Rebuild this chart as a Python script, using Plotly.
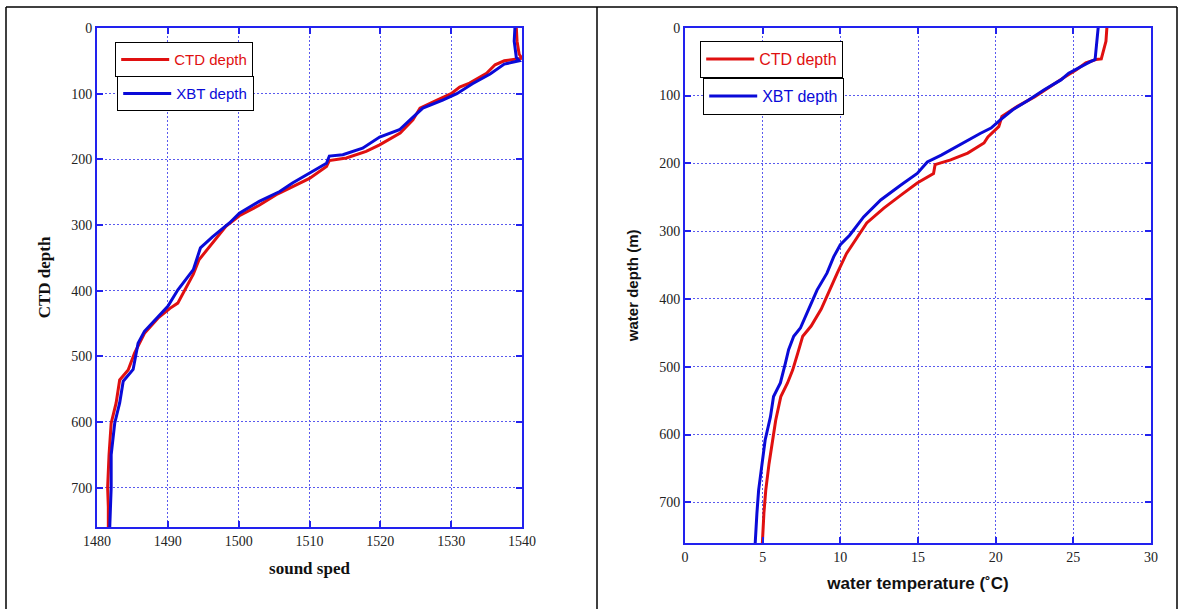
import plotly.graph_objects as go

# ---- Sound speed profile (left panel) ----
ss_ctd_depth = [0, 20, 40, 46, 50, 56, 69, 84, 90, 100, 110, 122, 140, 160, 178, 188, 198, 202, 211,
                229, 244, 254, 270, 286, 302, 328, 353, 375, 396, 419, 427, 442, 465, 495, 521, 536,
                571, 602, 650, 700, 730, 760]
ss_ctd_speed = [1539.2, 1539.3, 1539.6, 1540.0, 1537.5, 1536.2, 1535.0, 1532.6, 1531.2, 1530.0, 1528.0,
                1525.6, 1524.6, 1522.8, 1519.9, 1518.0, 1515.2, 1512.8, 1512.4, 1510.0, 1507.2, 1505.3,
                1502.9, 1500.1, 1498.2, 1496.3, 1494.4, 1493.6, 1492.6, 1491.4, 1490.3, 1488.6, 1486.7,
                1485.3, 1484.4, 1483.2, 1482.7, 1482.0, 1481.7, 1481.5, 1481.6, 1481.6]

ss_xbt_depth = [0, 20, 45, 50, 55, 70, 85, 100, 110, 122, 140, 155, 166, 183, 193, 195, 206, 221, 236,
                249, 264, 282, 297, 318, 335, 368, 399, 424, 445, 462, 480, 520, 538, 571, 602, 650, 700,
                760]
ss_xbt_speed = [1539.0, 1538.9, 1539.2, 1539.6, 1537.5, 1535.5, 1533.0, 1530.8, 1528.8, 1526.0, 1524.2,
                1522.7, 1519.9, 1517.5, 1514.7, 1512.8, 1512.4, 1510.0, 1507.6, 1505.8, 1502.9, 1500.1,
                1498.7, 1496.3, 1494.6, 1493.6, 1491.4, 1490.0, 1488.1, 1486.7, 1485.8, 1485.1, 1483.7,
                1483.2, 1482.5, 1482.0, 1482.0, 1481.8]

# ---- Temperature profile (right panel) ----
t_ctd_depth = [0, 20, 46, 47, 52, 62, 72, 87, 102, 116, 131, 146, 161, 170, 185, 195, 202, 215, 229,
               247, 266, 288, 308, 333, 362, 397, 415, 440, 455, 480, 505, 524, 544, 579, 608, 643,
               682, 716, 760]
t_ctd_temp = [27.16, 27.1, 26.8, 26.45, 25.8, 25.2, 24.5, 23.5, 22.5, 21.4, 20.4, 20.2, 19.5, 19.25,
              18.2, 17.1, 16.1, 16.0, 14.95, 13.9, 12.8, 11.7, 11.1, 10.4, 9.8, 9.14, 8.77, 8.12, 7.58,
              7.26, 6.93, 6.6, 6.17, 5.84, 5.63, 5.41, 5.2, 5.08, 4.98]

t_xbt_depth = [0, 20, 47, 50, 57, 67, 77, 92, 107, 121, 136, 148, 156, 173, 188, 198, 215, 232, 254,
               279, 306, 320, 338, 362, 387, 421, 443, 455, 475, 495, 524, 544, 574, 608, 647, 682,
               716, 760]
t_xbt_temp = [26.6, 26.5, 26.4, 26.1, 25.5, 24.7, 24.2, 23.1, 22.1, 21.1, 20.3, 19.7, 19.0, 17.7, 16.5,
              15.6, 14.95, 13.9, 12.6, 11.5, 10.6, 10.0, 9.57, 9.14, 8.5, 7.85, 7.43, 7.0, 6.67, 6.46,
              6.14, 5.7, 5.5, 5.16, 4.95, 4.74, 4.63, 4.52]

depth_ticks = [0, 100, 200, 300, 400, 500, 600, 700]
speed_ticks = [1480, 1490, 1500, 1510, 1520, 1530, 1540]
temp_ticks = [0, 5, 10, 15, 20, 25, 30]

RED = "#e01010"
BLUE = "#0a0ad8"
AXIS = "#2222ee"
GRID = "#5a5aee"
W, H = 1182, 609

fig = go.Figure()
fig.add_trace(go.Scatter(x=ss_ctd_speed, y=ss_ctd_depth, mode="lines", name="CTD depth",
                         line=dict(color=RED, width=3), xaxis="x", yaxis="y", legend="legend"))
fig.add_trace(go.Scatter(x=ss_xbt_speed, y=ss_xbt_depth, mode="lines", name="XBT depth",
                         line=dict(color=BLUE, width=3), xaxis="x", yaxis="y", legend="legend2"))
fig.add_trace(go.Scatter(x=t_ctd_temp, y=t_ctd_depth, mode="lines", name="CTD depth",
                         line=dict(color=RED, width=3), xaxis="x2", yaxis="y2", legend="legend3"))
fig.add_trace(go.Scatter(x=t_xbt_temp, y=t_xbt_depth, mode="lines", name="XBT depth",
                         line=dict(color=BLUE, width=3), xaxis="x2", yaxis="y2", legend="legend4"))

tickfont = dict(family="Liberation Serif", size=14, color="#222")
common = dict(showline=True, linecolor=AXIS, linewidth=2, mirror="ticks",
              ticks="inside", ticklen=6, tickwidth=1.5, tickcolor=AXIS,
              showgrid=True, gridcolor=GRID, gridwidth=1, griddash="2px,2px",
              zeroline=False, tickfont=tickfont, automargin=False)

fig.update_layout(
    width=W, height=H,
    margin=dict(l=0, r=0, t=0, b=0, pad=0),
    paper_bgcolor="white", plot_bgcolor="white",
    xaxis=dict(domain=[97 / W, 522 / W], anchor="y", range=[1480, 1540], tickvals=speed_ticks,
               title=dict(text="sound sped", font=dict(family="Liberation Serif", size=17, color="#111",
                                                       weight="bold"), standoff=14),
               **common),
    yaxis=dict(domain=[1 - 527 / H, 1 - 28 / H], anchor="x", range=[760, 0], tickvals=depth_ticks,
               title=dict(text="CTD depth", font=dict(family="Liberation Serif", size=17, color="#111",
                                                      weight="bold"), standoff=16),
               **common),
    xaxis2=dict(domain=[685 / W, 1151 / W], anchor="y2", range=[0, 30], tickvals=temp_ticks,
                title=dict(text="water temperature (˚C)", font=dict(family="Liberation Sans", size=17,
                                                                    color="#111", weight="bold"), standoff=13),
                **common),
    yaxis2=dict(domain=[1 - 543 / H, 1 - 27.7 / H], anchor="x2", range=[760, 0], tickvals=depth_ticks,
                title=dict(text="water depth (m)", font=dict(family="Liberation Sans", size=15,
                                                             color="#111", weight="bold"), standoff=17),
                **common),
    showlegend=True,
)

leg_common = dict(bordercolor="black", borderwidth=1.2, bgcolor="white", xanchor="left", yanchor="top",
                  itemwidth=48, tracegroupgap=0)
fig.update_layout(
    legend=dict(x=115 / W, y=1 - 42 / H, font=dict(family="Liberation Sans", size=15, color=RED), **leg_common),
    legend2=dict(x=117 / W, y=1 - 76 / H, font=dict(family="Liberation Sans", size=15, color=BLUE), **leg_common),
    legend3=dict(x=700 / W, y=1 - 41 / H, font=dict(family="Liberation Sans", size=16, color=RED), **leg_common),
    legend4=dict(x=703 / W, y=1 - 78 / H, font=dict(family="Liberation Sans", size=16, color=BLUE), **leg_common),
)

# outer table-like frame
frame = dict(type="line", xref="paper", yref="paper", line=dict(color="black", width=1.5))
fig.add_shape(x0=6 / W, x1=1177 / W, y0=1 - 7 / H, y1=1 - 7 / H, **frame)
fig.add_shape(x0=6 / W, x1=6 / W, y0=0, y1=1 - 7 / H, **frame)
fig.add_shape(x0=597 / W, x1=597 / W, y0=0, y1=1 - 7 / H, **frame)
fig.add_shape(x0=1177 / W, x1=1177 / W, y0=0, y1=1 - 7 / H, **frame)

fig.write_html("out.html")
